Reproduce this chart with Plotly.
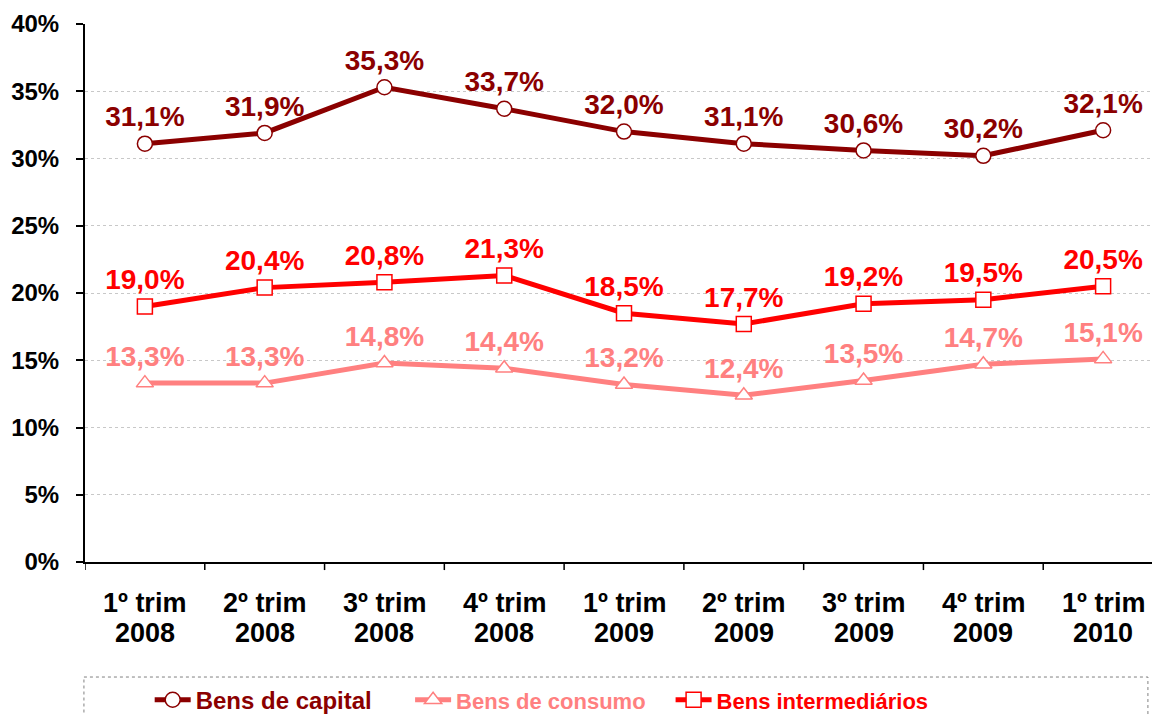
import plotly.graph_objects as go

quarters = ["1º trim", "2º trim", "3º trim", "4º trim", "1º trim", "2º trim", "3º trim", "4º trim", "1º trim"]
years = ["2008", "2008", "2008", "2008", "2009", "2009", "2009", "2009", "2010"]
bens_capital = [31.1, 31.9, 35.3, 33.7, 32.0, 31.1, 30.6, 30.2, 32.1]
bens_consumo = [13.3, 13.3, 14.8, 14.4, 13.2, 12.4, 13.5, 14.7, 15.1]
bens_intermediarios = [19.0, 20.4, 20.8, 21.3, 18.5, 17.7, 19.2, 19.5, 20.5]
y_ticks = [0, 5, 10, 15, 20, 25, 30, 35, 40]

FONT = "Liberation Sans, Arial"
series = [
    ("Bens de capital", bens_capital, "#8B0000", "circle", "font-size:24px", "\u00a0" * 5),
    ("Bens de consumo", bens_consumo, "#FF8080", "triangle-up", "font-size:22px", "\u00a0" * 3),
    ("Bens intermediários", bens_intermediarios, "#FF0000", "square", "font-size:22px", ""),
]

def fmt(v):
    return f"{v:.1f}".replace(".", ",") + "%"

xs = list(range(len(quarters)))
fig = go.Figure()
for name, vals, color, sym, sty, pad in series:
    fig.add_trace(go.Scatter(
        x=xs, y=vals, mode="lines+markers+text",
        name=f"<span style='color:{color};{sty}'>{name}</span>{pad}",
        line=dict(color=color, width=5),
        marker=dict(symbol=sym, size=15, color="white", line=dict(color=color, width=1.5)),
        text=[fmt(v) for v in vals], textposition="top center",
        textfont=dict(family=FONT, size=28, color=color, weight="bold"),
        cliponaxis=False,
    ))

fig.update_layout(
    width=1160, height=715,
    margin=dict(l=77, r=5, t=16, b=161),
    paper_bgcolor="white", plot_bgcolor="white",
    font=dict(family=FONT, size=24, color="black", weight="bold"),
    showlegend=True,
    legend=dict(orientation="h", x=0.06, xanchor="left", yref="container", y=0.032, yanchor="middle",
                font=dict(size=24, family=FONT, weight="bold"),
                itemwidth=36, bgcolor="rgba(0,0,0,0)"),
    xaxis=dict(
        tickmode="array", tickvals=xs, showticklabels=False,
        range=[-0.5, 8.5], showgrid=False, showline=True, linecolor="black", linewidth=2,
        ticks="", zeroline=False, automargin=False,
    ),
    yaxis=dict(
        range=[0, 40], tickvals=y_ticks, ticktext=[f"{v}%" for v in y_ticks],
        showgrid=True, gridcolor="#c8c8c8", griddash="dot", gridwidth=1,
        showline=True, linecolor="black", linewidth=2, ticks="outside", ticklen=7,
        tickcolor="black", tickwidth=1.5, tickfont=dict(size=24, weight="bold"),
        ticklabelstandoff=12, zeroline=False, automargin=False,
    ),
)

# category labels (two lines, tight spacing)
for i, (q, yr) in enumerate(zip(quarters, years)):
    fig.add_annotation(x=i, xref="x", y=-0.0762, yref="paper", text=f"<b>{q}</b>",
                       showarrow=False, font=dict(size=27, family=FONT, color="black"),
                       yanchor="middle")
    fig.add_annotation(x=i, xref="x", y=-0.132, yref="paper", text=f"<b>{yr}</b>",
                       showarrow=False, font=dict(size=27, family=FONT, color="black"),
                       yanchor="middle")

# x tick marks at category boundaries
for i in range(9):
    fig.add_shape(type="line", xref="x", yref="paper", x0=i - 0.5, x1=i - 0.5, y0=0, y1=-0.015,
                  line=dict(color="black", width=1.5))

# dotted legend frame
fig.add_shape(type="rect", xref="paper", yref="paper", x0=-0.001, x1=0.986, y0=-0.2138, y1=-0.31,
              line=dict(color="#808080", width=1, dash="dot"))

fig.write_html("out.html")
